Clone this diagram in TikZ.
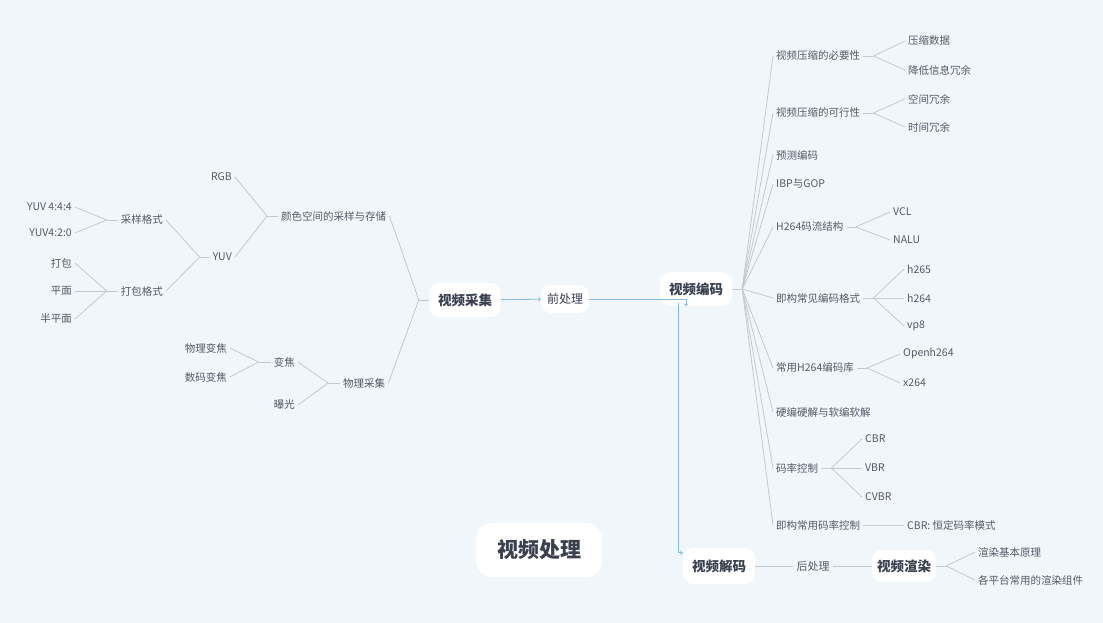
\documentclass[tikz,border=0pt]{standalone}
\usepackage{fontspec}
\setmainfont{Noto Sans CJK SC}
\usepackage{tikz}
\definecolor{bgblue}{RGB}{240,246,249}
\definecolor{txtgrey}{RGB}{84,90,102}
\definecolor{darktxt}{RGB}{58,64,80}
\definecolor{linegrey}{RGB}{196,201,207}
\definecolor{relblue}{RGB}{132,188,228}

\begin{document}
\begin{tikzpicture}[x=1pt,y=-1pt,
    leaf/.style={font=\fontsize{10.5}{12}\selectfont, text=txtgrey, inner sep=3pt},
    topic/.style={fill=white, rounded corners=10pt, text=darktxt,
      font=\bfseries\fontsize{13.5}{16}\selectfont, inner xsep=9pt, minimum height=34pt},
    branch/.style={draw=linegrey, line width=0.8pt},
    rel/.style={draw=relblue, line width=0.8pt, ->}]
    \useasboundingbox[fill=bgblue] (0,0) rectangle (1103,623);
    % main topics
    \node[topic] (cap) at (465,300) {视频采集};
    \node[topic, font=\fontsize{12}{14}\selectfont, inner xsep=6pt, minimum height=28pt] (pre) at (565,299) {前处理};
    \node[topic] (enc) at (696,289) {视频编码};
    \node[topic, minimum height=36pt] (dec) at (719,566) {视频解码};
    \node[leaf, font=\fontsize{11}{13}\selectfont] (post) at (813,566) {后处理};
    \node[topic, minimum height=32pt, inner xsep=5pt] (ren) at (904,566) {视频渲染};
    \node[topic, font=\bfseries\fontsize{21}{24}\selectfont, inner xsep=21pt, minimum height=54pt, rounded corners=16pt] (title) at (539,550) {视频处理};
    % left side: capture
    \node[leaf, anchor=west] (color) at (278,216) {颜色空间的采样与存储};
    \node[leaf, anchor=east] (rgb) at (235,177) {RGB};
    \node[leaf, anchor=east] (yuv) at (235,257) {YUV};
    \node[leaf, anchor=east] (samp) at (166,220) {采样格式};
    \node[leaf, anchor=east] (pack) at (166,291) {打包格式};
    \node[leaf, anchor=east] (yfour) at (75,207) {YUV 4:4:4};
    \node[leaf, anchor=east] (ytwo) at (75,233) {YUV4:2:0};
    \node[leaf, anchor=east] (dabao) at (75,263) {打包};
    \node[leaf, anchor=east] (plane) at (75,291) {平面};
    \node[leaf, anchor=east] (semi) at (75,319) {半平面};
    \node[leaf, anchor=west] (phys) at (340,383) {物理采集};
    \node[leaf, anchor=east] (zoomf) at (298,362) {变焦};
    \node[leaf, anchor=east] (expo) at (298,405) {曝光};
    \node[leaf, anchor=east] (optz) at (230,348) {物理变焦};
    \node[leaf, anchor=east] (digz) at (230,377) {数码变焦};
    % right side: encoding
    \node[leaf, anchor=west] (need) at (773,56) {视频压缩的必要性};
    \node[leaf, anchor=west] (feas) at (773,113) {视频压缩的可行性};
    \node[leaf, anchor=west] (pred) at (773,155) {预测编码};
    \node[leaf, anchor=west] (ibp) at (773,184) {IBP与GOP};
    \node[leaf, anchor=west] (strm) at (773,227) {H264码流结构};
    \node[leaf, anchor=west] (fmt) at (773,298) {即构常见编码格式};
    \node[leaf, anchor=west] (lib) at (773,368) {常用H264编码库};
    \node[leaf, anchor=west] (hw) at (773,412) {硬编硬解与软编软解};
    \node[leaf, anchor=west] (rc) at (773,468) {码率控制};
    \node[leaf, anchor=west] (zrc) at (773,525) {即构常用码率控制};
    \node[leaf, anchor=west] (comp) at (905,41) {压缩数据};
    \node[leaf, anchor=west] (redu) at (905,70) {降低信息冗余};
    \node[leaf, anchor=west] (spat) at (905,99) {空间冗余};
    \node[leaf, anchor=west] (tmpr) at (905,127) {时间冗余};
    \node[leaf, anchor=west] (vcl) at (890,212) {VCL};
    \node[leaf, anchor=west] (nalu) at (890,240) {NALU};
    \node[leaf, anchor=west] (hfive) at (904,269) {h265};
    \node[leaf, anchor=west] (hfour) at (904,298) {h264};
    \node[leaf, anchor=west] (vpe) at (904,326) {vp8};
    \node[leaf, anchor=west] (open) at (900,354) {Openh264};
    \node[leaf, anchor=west] (xlib) at (900,383) {x264};
    \node[leaf, anchor=west] (cbr) at (862,439) {CBR};
    \node[leaf, anchor=west] (vbr) at (862,468) {VBR};
    \node[leaf, anchor=west] (cvbr) at (862,497) {CVBR};
    \node[leaf, anchor=west] (cbrc) at (904,525) {CBR: 恒定码率模式};
    % bottom: rendering
    \node[leaf, anchor=west] (rbase) at (975,552) {渲染基本原理};
    \node[leaf, anchor=west] (rcomp) at (975,580) {各平台常用的渲染组件};
    % branches to the left
    \draw[branch] (cap.west) -- ++(-10,0) coordinate (jcap);
    \foreach \c in {color,phys} \draw[branch] (jcap) -- (\c.east);
    \draw[branch] (color.west) -- ++(-11,0) coordinate (jcolor);
    \foreach \c in {rgb,yuv} \draw[branch] (jcolor) -- (\c.east);
    \draw[branch] (yuv.west) -- ++(-10,0) coordinate (jyuv);
    \foreach \c in {samp,pack} \draw[branch] (jyuv) -- (\c.east);
    \draw[branch] (samp.west) -- ++(-11,0) coordinate (jsamp);
    \foreach \c in {yfour,ytwo} \draw[branch] (jsamp) -- (\c.east);
    \draw[branch] (pack.west) -- ++(-11,0) coordinate (jpack);
    \foreach \c in {dabao,plane,semi} \draw[branch] (jpack) -- (\c.east);
    \draw[branch] (phys.west) -- ++(-12,0) coordinate (jphys);
    \foreach \c in {zoomf,expo} \draw[branch] (jphys) -- (\c.east);
    \draw[branch] (zoomf.west) -- ++(-12,0) coordinate (jzoom);
    \foreach \c in {optz,digz} \draw[branch] (jzoom) -- (\c.east);
    % branches to the right
    \draw[branch] (enc.east) -- ++(10,0) coordinate (jenc);
    \foreach \c in {need,feas,pred,ibp,strm,fmt,lib,hw,rc,zrc} \draw[branch] (jenc) -- (\c.west);
    \draw[branch] (need.east) -- ++(10,0) coordinate (jneed);
    \foreach \c in {comp,redu} \draw[branch] (jneed) -- (\c.west);
    \draw[branch] (feas.east) -- ++(10,0) coordinate (jfeas);
    \foreach \c in {spat,tmpr} \draw[branch] (jfeas) -- (\c.west);
    \draw[branch] (strm.east) -- ++(9,0) coordinate (jstrm);
    \foreach \c in {vcl,nalu} \draw[branch] (jstrm) -- (\c.west);
    \draw[branch] (fmt.east) -- ++(10,0) coordinate (jfmt);
    \foreach \c in {hfive,hfour,vpe} \draw[branch] (jfmt) -- (\c.west);
    \draw[branch] (lib.east) -- ++(10,0) coordinate (jlib);
    \foreach \c in {open,xlib} \draw[branch] (jlib) -- (\c.west);
    \draw[branch] (rc.east) -- ++(10,0) coordinate (jrc);
    \foreach \c in {cbr,vbr,cvbr} \draw[branch] (jrc) -- (\c.west);
    \draw[branch] (zrc) -- (cbrc);
    \draw[branch] (dec) -- (post);
    \draw[branch] (post) -- (ren);
    \draw[branch] (ren.east) -- ++(10,0) coordinate (jren);
    \foreach \c in {rbase,rcomp} \draw[branch] (jren) -- (\c.west);
    % flow arrows
    \draw[rel] (cap) -- (pre);
    \draw[rel] (pre.east) -| ([xshift=-10pt]enc.south);
    \draw[rel] ([xshift=-18pt,yshift=3pt]enc.south) |- ([yshift=-5pt]dec.north west);
\end{tikzpicture}
\end{document}
